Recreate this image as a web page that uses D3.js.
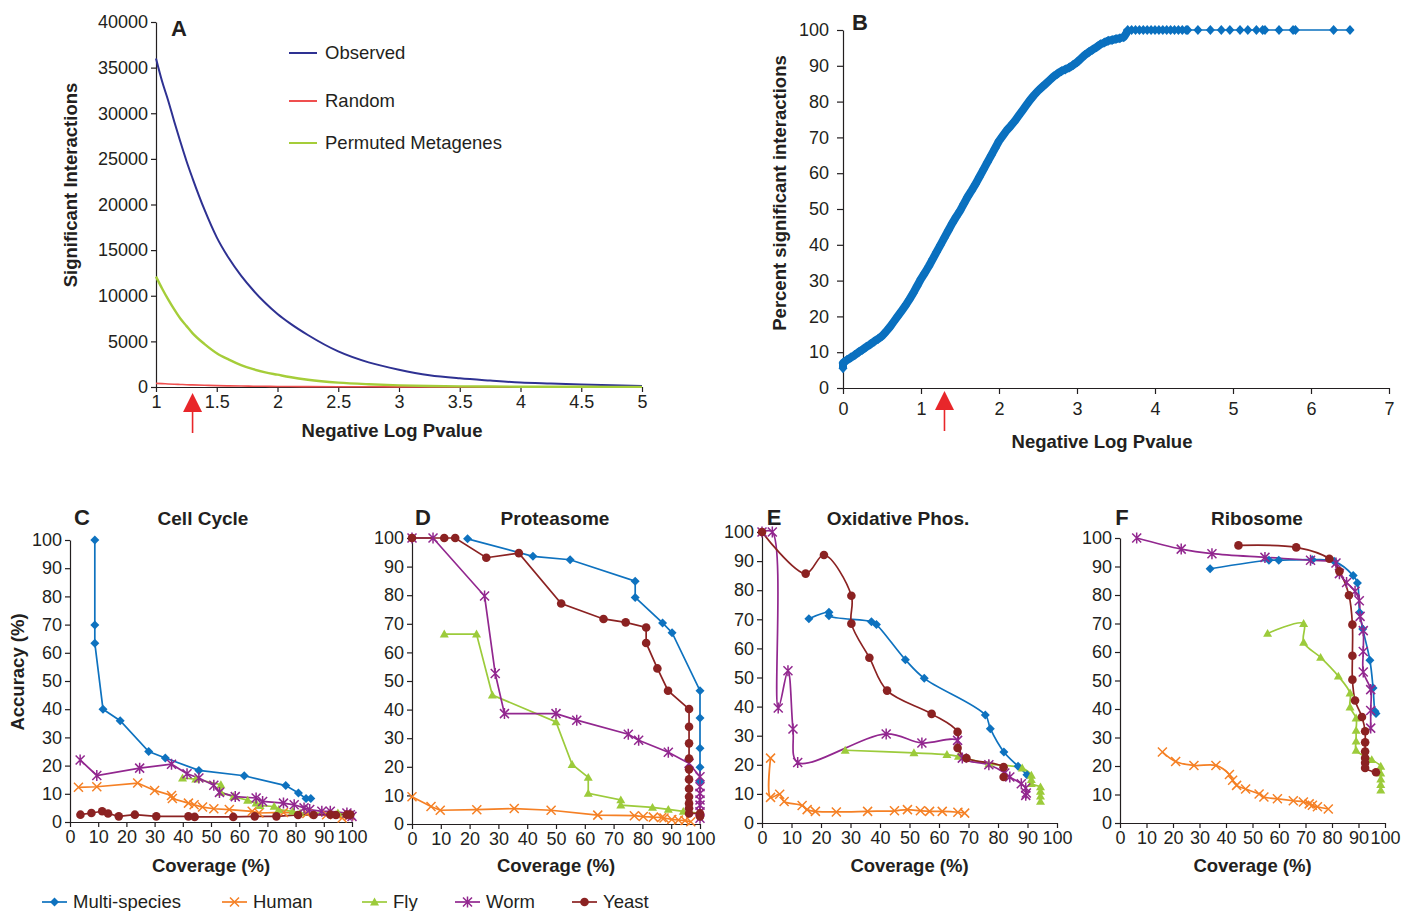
<!DOCTYPE html>
<html lang="en">
<head>
<meta charset="UTF-8">
<title>metagene interactions</title>
<script src="https://d3js.org/d3.v7.min.js"></script>
<style>
    body{margin:0;background:#fff;}
    svg text{font-family:"Liberation Sans",Arial,Helvetica,sans-serif;fill:#231f20;}
    .tick text{font-size:18px;}
    .axis path,.axis line{stroke:#231f20;stroke-width:1.2;}
    .lab{font-weight:bold;font-size:18.5px;}
    .ttl{font-weight:bold;font-size:19px;}
    .letter{font-weight:bold;font-size:22px;}
    .leg{font-size:18.5px;}
</style>
</head>
<body>
<svg id="fig" width="1402" height="911"></svg>
<script>
    // panel A: significant interactions vs -log p
    let aX        = [1, 1.05, 1.1, 1.15, 1.2, 1.25, 1.3, 1.4, 1.5, 1.6, 1.7, 1.8, 1.9, 2, 2.1, 2.25, 2.5, 2.75, 3, 3.25, 3.5, 3.75, 4, 4.25, 4.5, 4.75, 5]
    let aObserved = [36000, 33500, 31400, 29100, 26900, 24800, 22900, 19400, 16400, 14100, 12200, 10600, 9200, 8000, 7000, 5700, 3900, 2700, 1900, 1300, 950, 700, 480, 370, 270, 180, 110]
    let aPermuted = [12100, 10800, 9600, 8500, 7500, 6700, 5900, 4700, 3700, 3000, 2400, 1950, 1600, 1350, 1100, 800, 480, 300, 180, 110, 70, 50, 35, 28, 20, 15, 10]
    let aRandom   = [400, 370, 330, 300, 275, 250, 230, 190, 150, 125, 105, 90, 75, 60, 52, 42, 30, 22, 15, 11, 8, 6, 4, 3, 2, 1, 0]

    // panel B: percent significant interactions
    let bX = [0, 0, 0.05, 0.1, 0.15, 0.2, 0.25, 0.3, 0.35, 0.4, 0.45, 0.5, 0.55, 0.6, 0.65, 0.7, 0.75, 0.8, 0.85, 0.9, 0.95,
        1, 1.05, 1.1, 1.15, 1.2, 1.25, 1.3, 1.35, 1.4, 1.45, 1.5, 1.55, 1.6, 1.65, 1.7, 1.75, 1.8, 1.85, 1.9, 1.95,
        2, 2.05, 2.1, 2.15, 2.2, 2.25, 2.3, 2.35, 2.4, 2.45, 2.5, 2.55, 2.6, 2.65, 2.7, 2.75, 2.8, 2.85, 2.9, 2.95,
        3, 3.05, 3.1, 3.15, 3.2, 3.25, 3.3, 3.35, 3.4, 3.45, 3.5, 3.55, 3.6, 3.63, 3.65,
        3.7, 3.75, 3.8, 3.85, 3.9, 3.95, 4, 4.05, 4.1, 4.15, 4.2, 4.25, 4.3, 4.35, 4.4, 4.42,
        4.55, 4.71, 4.85, 4.96, 5.09, 5.19, 5.3, 5.38, 5.41, 5.59, 5.77, 5.8, 6.29, 6.5]
    let bY = [5.5, 7, 7.8, 8.5, 9.2, 10, 10.7, 11.5, 12.2, 13, 13.7, 14.5, 15.7, 17, 18.5, 20, 21.5, 23, 24.7, 26.5, 28.5,
        30.5, 32.2, 34, 36, 38, 40, 42, 44, 46, 47.8, 49.5, 51.5, 53.5, 55.2, 57, 59, 61, 63, 65, 67,
        69, 70.5, 72, 73.2, 74.5, 76, 77.5, 79, 80.5, 81.8, 83, 84, 85, 86, 87, 87.8, 88.5, 89, 89.5, 90.2,
        91, 92, 93, 93.8, 94.5, 95.2, 96, 96.5, 97, 97.2, 97.5, 97.7, 98, 99, 100,
        100, 100, 100, 100, 100, 100, 100, 100, 100, 100, 100, 100, 100, 100, 100, 100,
        100, 100, 100, 100, 100, 100, 100, 100, 100, 100, 100, 100, 100, 100]

    // panels C-F: accuracy vs coverage, [coverage, accuracy]
    let cMulti = [[8.8,100],[8.8,69.9],[8.8,63.4],[11.7,40],[17.8,35.9],[27.9,25],[33.8,22.7],[45.7,18.3],[61.8,16.4],[76.5,12.9],[81,10.3],[83.7,8.3],[85.4,8.3]]
    let cHuman = [[3,12.3],[9.5,12.5],[24,13.8],[30,11.2],[36,9.4],[36.3,8.3],[42,6.7],[44,6.1],[47,5.3],[51,4.7],[56.5,4.4],[64.6,3.8],[67,3.2],[75.7,3.4],[84,3],[91,2.6],[96.5,1.4],[99,2.2]]
    let cFly   = [[39.9,15.6],[44.6,15.2],[53.5,13.2],[53.5,10.5],[58,9],[63,7.7],[66,6.7],[67.4,5.8],[72.4,5.5],[74,4.4],[79,3.8],[81.6,3.2],[95,3.2],[98,2.6]]
    let cWorm  = [[3.6,22],[9.5,16.5],[24.7,19.1],[36,20.5],[41.5,17.1],[45.7,15.6],[51,13],[53,10.5],[58.6,9],[66,8.5],[68.3,7.3],[75.7,6.7],[79.5,6.1],[83,5],[85,4.4],[89.3,3.8],[92.3,3.8],[98.2,3.2],[99.4,2.6],[100,2]]
    let cYeast = [[3.7,2.6],[7.6,3.2],[11.4,3.8],[13.5,3],[17.3,2],[23,2.6],[30.6,2],[42,2],[44.2,1.8],[57.9,1.8],[65.5,2],[73.2,2],[80.9,2.5],[86.4,2.5],[92.3,2.6],[94.3,2.5],[98.2,2.6],[99.4,2.6]]

    let dMulti = [[19.3,99.7],[42,93.6],[54.9,92.4],[77.5,84.9],[77.5,79.2],[87,70.3],[90.3,66.9],[100,46.6],[100,37.1],[100,26.5],[100,19.8],[100,14.8]]
    let dHuman = [[0,9.5],[6.6,6.1],[9.8,4.8],[22.5,5],[35.5,5.4],[48.3,4.8],[64.5,3.1],[77.2,2.9],[80.3,2.6],[83.8,2.4],[86.7,2.3],[87.5,2.1],[90.2,1.6],[92.5,1.4],[94.8,1.2],[96.8,0.8]]
    let dFly   = [[11.2,66.4],[22.4,66.4],[27.9,45.1],[50,35.7],[55.6,20.8],[61.2,16.3],[61.2,10.7],[72.5,8.4],[72.5,6.6],[83.5,5.8],[89,5.1],[94.2,4.4],[100,3.7]]
    let dWorm  = [[0,100],[7.3,100],[25.2,79.7],[28.9,52.6],[32.1,38.6],[50,38.6],[57.2,36.3],[75.1,31.4],[78.7,29.3],[89,25.1],[96.2,21.2],[100,16.5],[100,13],[100,10.7],[100,8.4],[100,6.6],[100,4.3],[100,2]]
    let dYeast = [[0,100],[11.2,100],[15,100],[25.8,93.1],[37.1,94.7],[51.8,77.1],[66.5,71.7],[74.2,70.5],[81.3,68.7],[81.3,63.3],[85.2,54.4],[88.9,46.6],[96.2,40.2],[96.2,34],[96.2,28.2],[96.2,22.9],[96.2,19.1],[96.2,15.6],[96.2,12.3],[96.2,9.5],[96.2,7.2],[96.2,5.5],[96.2,3.7],[100,3.7],[100,2.6]]

    let eMulti = [[15.9,70.2],[22.7,72.4],[22.7,71.2],[37.1,69.2],[38.8,68.2],[48.6,56.1],[55,49.7],[75.7,37.1],[77.4,32.4],[82,24.4],[86.8,19.5],[89.8,16.6]]
    let eHuman = [[2.9,22.3],[2.9,8.8],[6,9.9],[7.5,7.4],[13.6,6],[15.3,4.6],[18.1,4],[25.2,3.8],[35.8,4],[44.9,4.2],[49.3,4.6],[53.7,4.2],[56.8,4],[61.1,4],[66.4,3.7],[68.7,3.4]]
    let eFly   = [[28.2,25],[51.5,24.1],[62.7,23.5],[66.6,22.9],[76.9,20.3],[88.2,18.9],[91.3,16.4],[91.3,14.9],[91.3,13.5],[94.4,12.4],[94.4,10.9],[94.4,9.2],[94.4,7.4]]
    let eWorm  = [[0,100],[3.5,100],[5.5,39.5],[8.8,52.3],[10.5,32.3],[12.1,20.8],[42.1,30.6],[54.2,27.5],[66.3,28.4],[67.9,22.3],[76.9,20],[82.3,17.2],[84,15.8],[87.9,13.5],[89.4,12],[89.6,10.3],[89.4,9.5]]
    let eYeast = [[0,100],[14.8,85.7],[21,92.1],[30.3,78.1],[30.3,68.5],[36.4,56.8],[42.4,45.5],[57.5,37.5],[66.3,31.3],[66.3,25.8],[69.3,22.3],[81.9,19.2],[81.9,15.8]]

    let fMulti = [[34,89.2],[56.2,92.2],[59.9,92.2],[72.6,92.4],[80.8,91.8],[88,86.8],[89.6,84.2],[90.4,73.9],[91.6,68.1],[94.3,57.1],[95.5,47.4],[96.2,39.2],[96.6,38.4]]
    let fHuman = [[16,24.9],[21,21.6],[27.9,20.2],[36.2,20.2],[41.3,17],[42.5,15],[44,13.2],[47.4,11.9],[52.5,10.2],[54.3,9.1],[59.4,8.5],[65.4,7.8],[69.2,7.4],[71.4,6.7],[72.6,6.2],[74.5,5.7],[78.6,4.9]]
    let fFly   = [[55.7,66.5],[69.3,70],[69.3,63.4],[75.7,58.1],[82.4,51.5],[86.8,45.6],[86.8,40.7],[89.1,36.8],[89.1,32.5],[89.1,28.7],[89.1,25.5],[95,22.2],[98.4,19.9],[98.4,17.5],[98.4,15.4],[98.4,13.5],[98.4,11.5]]
    let fWorm  = [[6.3,100],[23.1,96.1],[34.7,94.5],[54.7,93.2],[71.9,92.2],[81.5,91.2],[82.8,87.5],[85.5,84.4],[88.7,81.3],[90.3,78],[90.6,72.5],[91.8,67.5],[91.8,60.2],[91.8,53],[94.6,46.8],[94.6,39.5],[94.6,33.3]]
    let fYeast = [[44.7,97.4],[66.5,96.7],[79,92.7],[82.8,88.3],[86.4,79.9],[87.7,69.6],[87.7,58.7],[87.7,50.3],[88.7,43],[91.3,37.2],[92.5,32.2],[92.5,28.3],[92.5,25.1],[92.5,22.8],[92.5,21.1],[92.5,19.3],[96.6,17.8]]

    let species = ["Multi-species", "Human", "Fly", "Worm", "Yeast"]
    let speciesColor = ["#0e72bf", "#f58025", "#9ccb3b", "#92278f", "#8b2222"]
    let pValueCut = 1.301   // -log10(0.05)

    let svg = d3.select("#fig")

    // marker shapes
    function marker(sel, k, c) {
        let r = 4.5
        if (k === 4) {
            sel.append("circle").attr("r", 4.3).attr("fill", c)
        } else if (k === 0) {
            sel.append("path").attr("d", `M0,${-r}L${r},0L0,${r}L${-r},0Z`).attr("fill", c)
        } else if (k === 2) {
            sel.append("path").attr("d", `M0,${-r}L${r},${r*0.75}L${-r},${r*0.75}Z`).attr("fill", c)
        } else if (k === 1) {
            sel.append("path").attr("d", `M${-r},${-r}L${r},${r}M${-r},${r}L${r},${-r}`)
                .attr("stroke", c).attr("stroke-width", 1.5).attr("fill", "none")
        } else {
            sel.append("path").attr("d", `M${-r},${-r}L${r},${r}M${-r},${r}L${r},${-r}M0,${-r-1}L0,${r+1}`)
                .attr("stroke", c).attr("stroke-width", 1.5).attr("fill", "none")
        }
    }

    function axes(g, x, y, xt, yt, tick, pad) {
        g.append("g").attr("class", "axis")
            .attr("transform", `translate(0,${y.range()[0]})`)
            .call(d3.axisBottom(x).tickValues(xt).tickSize(tick).tickSizeOuter(0).tickPadding(pad).tickFormat(d3.format("")))
        g.append("g").attr("class", "axis")
            .attr("transform", `translate(${x.range()[0]},0)`)
            .call(d3.axisLeft(y).tickValues(yt).tickSize(tick).tickSizeOuter(0).tickPadding(pad).tickFormat(d3.format("")))
    }

    function arrow(g, xpos, top) {
        g.append("path").attr("d", `M${xpos},${top}L${xpos+9.5},${top+19}L${xpos-9.5},${top+19}Z`).attr("fill", "#e8262a")
        g.append("line").attr("x1", xpos).attr("x2", xpos).attr("y1", top + 18).attr("y2", top + 40)
            .attr("stroke", "#e8262a").attr("stroke-width", 1.6)
    }

    // ---------- A ----------
    let gA = svg.append("g")
    let xA = d3.scaleLinear().domain([1, 5]).range([156, 642])
    let yA = d3.scaleLinear().domain([0, 40000]).range([387, 22])
    axes(gA, xA, yA, d3.range(1, 5.01, 0.5), d3.range(0, 40001, 5000), 5, 3)
    let aSeries = [[aObserved, "#2e3192", 2], [aRandom, "#ef4f4f", 1.6], [aPermuted, "#a5cd39", 2.4]]
    aSeries.forEach(function (s) {
        gA.append("path")
            .datum(aX.map((v, i) => [v, s[0][i]]))
            .attr("fill", "none").attr("stroke", s[1]).attr("stroke-width", s[2])
            .attr("d", d3.line().x(d => xA(d[0])).y(d => yA(d[1])).curve(d3.curveMonotoneX))
    })
    let aLegend = [["Observed", "#2e3192", 53], ["Random", "#ef4f4f", 101], ["Permuted Metagenes", "#a5cd39", 143]]
    aLegend.forEach(function (l) {
        gA.append("line").attr("x1", 289).attr("x2", 317).attr("y1", l[2]).attr("y2", l[2])
            .attr("stroke", l[1]).attr("stroke-width", 2)
        gA.append("text").attr("class", "leg").attr("x", 325).attr("y", l[2] + 6).text(l[0])
    })
    gA.append("text").attr("class", "letter").attr("x", 171).attr("y", 36).text("A")
    gA.append("text").attr("class", "lab").attr("text-anchor", "middle")
        .attr("transform", "translate(77,185) rotate(-90)").text("Significant Interactions")
    gA.append("text").attr("class", "lab").attr("text-anchor", "middle").attr("x", 392).attr("y", 437).text("Negative Log Pvalue")
    arrow(gA, xA(pValueCut), 393)

    // ---------- B ----------
    let gB = svg.append("g")
    let xB = d3.scaleLinear().domain([0, 7]).range([843, 1389])
    let yB = d3.scaleLinear().domain([0, 100]).range([388, 30])
    axes(gB, xB, yB, d3.range(0, 8), d3.range(0, 101, 10), 6, 8)
    let bPts = bX.map((v, i) => [v, bY[i]])
    let lineB = d3.line().x(d => xB(d[0])).y(d => yB(d[1]))
    gB.append("path").datum(bPts.filter(d => d[0] <= 3.65)).attr("fill", "none")
        .attr("stroke", "#0a70bf").attr("stroke-width", 8).attr("stroke-linejoin", "round").attr("d", lineB)
    gB.append("path").datum(bPts).attr("fill", "none")
        .attr("stroke", "#0a70bf").attr("stroke-width", 1.5).attr("d", lineB)
    gB.selectAll(".bpt").data(bPts).join("path")
        .attr("transform", d => `translate(${xB(d[0])},${yB(d[1])})`)
        .attr("d", "M0,-5L4.5,0L0,5L-4.5,0Z").attr("fill", "#0a70bf")
    gB.append("text").attr("class", "letter").attr("x", 852).attr("y", 30).text("B")
    gB.append("text").attr("class", "lab").attr("text-anchor", "middle")
        .attr("transform", "translate(786,193) rotate(-90)").text("Percent significant interactions")
    gB.append("text").attr("class", "lab").attr("text-anchor", "middle").attr("x", 1102).attr("y", 448).text("Negative Log Pvalue")
    arrow(gB, xB(pValueCut), 391)

    // ---------- C-F ----------
    let panels = [
        {letter: "C", title: "Cell Cycle", lx: 82, tx: 203, xr: [70, 352], yr: [822, 540], data: [cMulti, cHuman, cFly, cWorm, cYeast], smooth: false},
        {letter: "D", title: "Proteasome", lx: 423, tx: 555, xr: [412, 700], yr: [824, 538], data: [dMulti, dHuman, dFly, dWorm, dYeast], smooth: false},
        {letter: "E", title: "Oxidative Phos.", lx: 774, tx: 898, xr: [762, 1057], yr: [823, 532], data: [eMulti, eHuman, eFly, eWorm, eYeast], smooth: true},
        {letter: "F", title: "Ribosome", lx: 1122, tx: 1257, xr: [1120, 1385], yr: [823, 538], data: [fMulti, fHuman, fFly, fWorm, fYeast], smooth: true}
    ]
    panels.forEach(function (p) {
        let g = svg.append("g")
        let x = d3.scaleLinear().domain([0, 100]).range(p.xr)
        let y = d3.scaleLinear().domain([0, 100]).range(p.yr)
        axes(g, x, y, d3.range(0, 101, 10), d3.range(0, 101, 10), 5, 3)
        let line = d3.line().x(d => x(d[0])).y(d => y(d[1]))
            .curve(p.smooth ? d3.curveCatmullRom.alpha(0.5) : d3.curveLinear)
        p.data.forEach(function (s, k) {
            g.append("path").datum(s).attr("fill", "none").attr("stroke", speciesColor[k])
                .attr("stroke-width", 1.7).attr("d", line)
        })
        p.data.forEach(function (s, k) {
            g.selectAll(null).data(s).join("g")
                .attr("transform", d => `translate(${x(d[0])},${y(d[1])})`)
                .each(function () { marker(d3.select(this), k, speciesColor[k]) })
        })
        let cx = (p.xr[0] + p.xr[1]) / 2
        g.append("text").attr("class", "letter").attr("text-anchor", "middle").attr("x", p.lx).attr("y", 525).text(p.letter)
        g.append("text").attr("class", "ttl").attr("text-anchor", "middle").attr("x", p.tx).attr("y", 525).text(p.title)
        g.append("text").attr("class", "lab").attr("text-anchor", "middle").attr("x", cx).attr("y", 872).text("Coverage (%)")
    })
    svg.append("text").attr("class", "lab").attr("text-anchor", "middle")
        .attr("transform", "translate(24,672) rotate(-90)").text("Accuracy (%)")

    // bottom legend
    let legX = [42, 222, 362, 455, 572]
    species.forEach(function (name, k) {
        let g = svg.append("g").attr("transform", `translate(${legX[k]},902)`)
        g.append("line").attr("x1", 0).attr("x2", 25).attr("stroke", speciesColor[k]).attr("stroke-width", 1.7)
        marker(g.append("g").attr("transform", "translate(12.5,0)"), k, speciesColor[k])
        g.append("text").attr("class", "leg").attr("x", 31).attr("y", 6).text(name)
    })
</script>
</body>
</html>
